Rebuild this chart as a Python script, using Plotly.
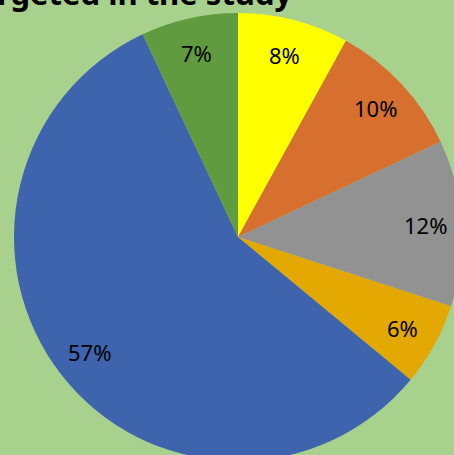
import math
import plotly.graph_objects as go

categories = ["Category A", "Category B", "Category C", "Category D", "Category E", "Category F"]
values = [8, 10, 12, 6, 57, 7]
colors = ["#FFFF00", "#D7702E", "#929292", "#E3A902", "#3D64AD", "#619B3F"]
title_text = "Sectors targeted in the study"

W, H = 480, 480
ml, mr, mt, mb = 14, 18, 13, 19
pw = W - ml - mr
ph = H - mt - mb
label_r = 0.84

fig = go.Figure(go.Pie(
    labels=categories,
    values=values,
    sort=False,
    direction="clockwise",
    rotation=0,
    marker=dict(colors=colors, line=dict(width=0)),
    textinfo="none",
    showlegend=False,
    hoverinfo="label+percent",
))

total = sum(values)
cum = 0
for v in values:
    mid = (cum + v / 2) / total * 2 * math.pi
    cum += v
    fig.add_annotation(
        text=f"{round(100 * v / total)}%",
        xref="paper", yref="paper",
        x=0.5 + 0.5 * label_r * math.sin(mid),
        y=0.5 + 0.5 * label_r * math.cos(mid),
        xanchor="center", yanchor="middle",
        showarrow=False,
        font=dict(family="Noto Sans", size=22, color="black"),
    )

fig.add_annotation(
    text="<b>" + title_text + "</b>",
    xref="paper", yref="paper",
    x=(295 - ml) / pw, y=1 + (mt - 16) / ph,
    xanchor="right", yanchor="bottom",
    showarrow=False,
    font=dict(family="Noto Sans", size=31, color="black"),
)

fig.update_layout(
    width=W, height=H, autosize=False,
    margin=dict(l=ml, r=mr, t=mt, b=mb),
    paper_bgcolor="#A9D18E",
    plot_bgcolor="#A9D18E",
)

fig.write_html("out.html", config={"displayModeBar": False},
               post_script="document.body.style.margin='0';document.body.style.overflow='hidden';")
